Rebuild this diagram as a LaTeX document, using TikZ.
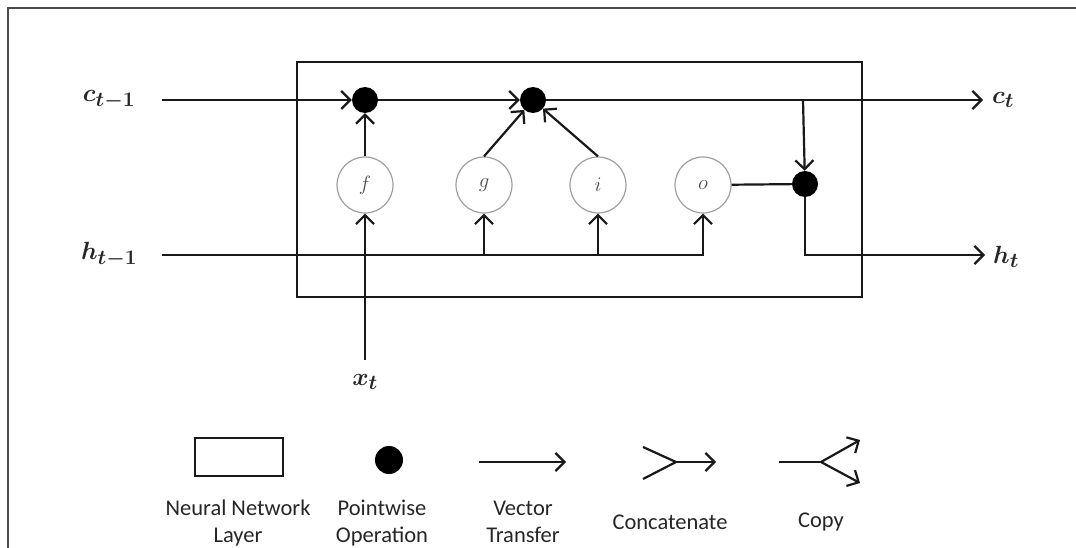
\documentclass[tikz,border=0pt]{standalone}
\usepackage{fontspec}
\setsansfont{Carlito}
\usetikzlibrary{arrows.meta}

\tikzset{
  wire/.style={line width=2.2pt, draw=black!90},
  gate/.style={circle, draw=gray!75, line width=1.2pt, fill=white,
    minimum size=56pt, inner sep=0pt,
    font=\fontsize{20}{20}\selectfont, text=black!70},
  pw/.style={circle, fill=black, minimum size=26pt, inner sep=0pt},
  mathlbl/.style={font=\fontsize{28}{30}\selectfont\boldmath, inner sep=0pt, text=black!85},
  legtext/.style={font=\sffamily\fontsize{22.5}{27}\selectfont, align=center, text=black!85},
  layerbox/.style={draw=black!90, line width=2.2pt, fill=none, inner sep=0pt}
}

\begin{document}
\begin{tikzpicture}[x=1pt, y=-1pt,
  >={Straight Barb[length=9pt, width=18pt]}]
  \useasboundingbox (0,0) rectangle (1076,548);

  % page frame
  \draw[line width=1.4pt, black!70] (8,548) -- (8,8) -- (1076,8);

  % LSTM cell
  \node[layerbox, minimum width=565pt, minimum height=235pt] (cell) at (579.5,179.5) {};

  % pointwise operations
  \node[pw] (m1) at (365,100) {};
  \node[pw] (m2) at (533,100) {};
  \node[pw] (m3) at (805,184) {};

  % gates
  \node[gate] (f) at (365,185) {$f$};
  \node[gate] (g) at (484,185) {$g$};
  \node[gate] (i) at (598,185) {$i$};
  \node[gate] (o) at (703,185) {$o$};

  % inputs and outputs
  \node[mathlbl] (cin)  at (109,100) {$c_{t-1}$};
  \node[mathlbl] (hin)  at (109,255) {$h_{t-1}$};
  \node[mathlbl] (xin)  at (365,382) {$x_t$};
  \node[mathlbl, anchor=west] (cout) at (992,100) {$c_t$};
  \node[mathlbl, anchor=west] (hout) at (993,257) {$h_t$};

  \coordinate (cs) at (162,100);
  \coordinate (hs) at (162,255);
  \coordinate (xs) at (365,360);
  \coordinate (br) at (803,100);
  \coordinate (ce) at (983,100);
  \coordinate (he) at (985,255);

  % cell state path
  \draw[wire, ->] (cs) -- (m1);
  \draw[wire, ->] (m1) -- (m2);
  \draw[wire, ->] (m2) -- (ce);
  \draw[wire, ->] (br) -- (m3);

  % hidden state path
  \draw[wire, ->] (hs) -| (o);
  \draw[wire, ->] (g |- hs) -- (g);
  \draw[wire, ->] (i |- hs) -- (i);
  \draw[wire, ->] (xs) -- (f);

  % gate outputs
  \draw[wire, ->] (f) -- (m1);
  \draw[wire, ->] (g.north) -- (m2);
  \draw[wire, ->] (i.north) -- (m2);
  \draw[wire] (o) -- (m3);
  \draw[wire, ->] (m3) |- (he);

  % legend symbols
  \node[layerbox, minimum width=88pt, minimum height=38pt] (lnn) at (239,457) {};
  \node[pw, minimum size=28pt] (lpw) at (389,460) {};

  \coordinate (va) at (479,462);
  \coordinate (vb) at (566,462);
  \draw[wire, ->] (va) -- (vb);

  \coordinate (ca) at (643,447);
  \coordinate (cm) at (676,462);
  \coordinate (cb) at (643,479);
  \coordinate (cz) at (716,462);
  \draw[wire] (ca) -- (cm) -- (cb);
  \draw[wire, ->] (cm) -- (cz);

  \coordinate (pa) at (779,462);
  \coordinate (pm) at (821,462);
  \coordinate (pu) at (860,440);
  \coordinate (pd) at (860,483);
  \draw[wire] (pa) -- (pm);
  \draw[wire, ->] (pm) -- (pu);
  \draw[wire, ->] (pm) -- (pd);

  % legend texts
  \node[legtext] (tnn) at (238,523) {Neural Network\\Layer};
  \node[legtext] (tpw) at (382,523) {Pointwise\\Operation};
  \node[legtext] (tvt) at (523,522) {Vector\\Transfer};
  \node[legtext] (tcc) at (670,522) {Concatenate};
  \node[legtext] (tcp) at (821,522) {Copy};
\end{tikzpicture}
\end{document}
